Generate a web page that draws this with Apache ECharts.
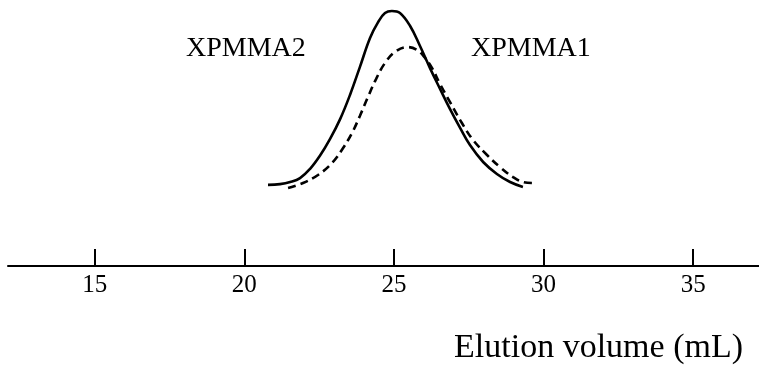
<!DOCTYPE html>
<html>
<head>
<meta charset="utf-8">
<script src="https://cdn.jsdelivr.net/npm/echarts@6/dist/echarts.min.js"></script>
<style>
html,body{margin:0;padding:0;background:#fff;}
#chart{width:759px;height:367px;}
</style>
</head>
<body>
<div id="chart"></div>
<script>
// Tick labels (elution volume, mL)
var tickValues = [15, 20, 25, 30, 35];
// XPMMA2 (solid) : elution volume (mL) and detector response (arb. units)
var xpmma2Volume = [20.79, 21.19, 21.53, 21.86, 22.19, 22.53, 22.86, 23.20, 23.53, 23.86, 24.20, 24.47, 24.70, 24.93, 25.20, 25.54, 25.87, 26.20, 26.54, 26.87, 27.21, 27.54, 27.98, 28.44, 28.88, 29.31];
var xpmma2Signal = [31.2, 31.5, 32.3, 33.8, 37.3, 42.5, 48.8, 56.5, 65.8, 76.5, 87.7, 93.8, 97.3, 98.1, 97.3, 92.3, 84.6, 76.2, 68.1, 60.4, 53.1, 46.5, 40.0, 35.4, 32.3, 30.4];
// XPMMA1 (dashed)
var xpmma1Volume = [21.46, 21.96, 22.46, 22.93, 23.30, 23.60, 23.86, 24.13, 24.40, 24.70, 25.03, 25.44, 25.77, 26.04, 26.27, 26.54, 26.87, 27.27, 27.64, 28.11, 28.54, 28.98, 29.31, 29.65];
var xpmma1Signal = [30.0, 31.9, 35.0, 39.6, 45.4, 51.2, 57.7, 65.0, 71.9, 78.1, 82.3, 84.2, 83.1, 80.0, 76.2, 70.0, 63.1, 55.0, 48.5, 42.7, 38.1, 34.2, 32.3, 31.9];
var seriesNames = ['XPMMA2', 'XPMMA1'];
var axisTitle = 'Elution volume (mL)';

function pairs(xs, ys) { return xs.map(function (x, i) { return [x, ys[i]]; }); }

var font = '"Liberation Serif", "Times New Roman", serif';
var chart = echarts.init(document.getElementById('chart'), null, {renderer: 'canvas'});
chart.setOption({
  animation: false,
  backgroundColor: '#ffffff',
  grid: {left: 8, right: 0, top: 6, bottom: 101, containLabel: false},
  xAxis: {
    type: 'value',
    min: 12.1,
    max: 37.2,
    axisLine: {show: true, lineStyle: {color: '#000', width: 2}},
    axisTick: {show: true, inside: true, length: 17, customValues: tickValues, lineStyle: {color: '#000', width: 2}},
    axisLabel: {show: true, customValues: tickValues, color: '#000', fontFamily: 'Liberation Serif', fontSize: 25, margin: 7},
    splitLine: {show: false}
  },
  yAxis: {
    type: 'value', min: 0, max: 100, show: false,
    splitLine: {show: false}
  },
  graphic: [
    {type: 'text', left: 186, top: 35, style: {text: seriesNames[0], font: '28px ' + font, fill: '#000'}},
    {type: 'text', left: 471, top: 35, style: {text: seriesNames[1], font: '28px ' + font, fill: '#000'}},
    {type: 'text', right: 16, top: 331, style: {text: axisTitle, font: '34px ' + font, fill: '#000'}}
  ],
  series: [
    {
      name: seriesNames[0], type: 'line', smooth: 0.4, showSymbol: false,
      data: pairs(xpmma2Volume, xpmma2Signal),
      lineStyle: {color: '#000', width: 2.6, type: 'solid'}
    },
    {
      name: seriesNames[1], type: 'line', smooth: 0.4, showSymbol: false,
      data: pairs(xpmma1Volume, xpmma1Signal),
      lineStyle: {color: '#000', width: 2.6, type: [8, 5]}
    }
  ]
});
</script>
</body>
</html>
